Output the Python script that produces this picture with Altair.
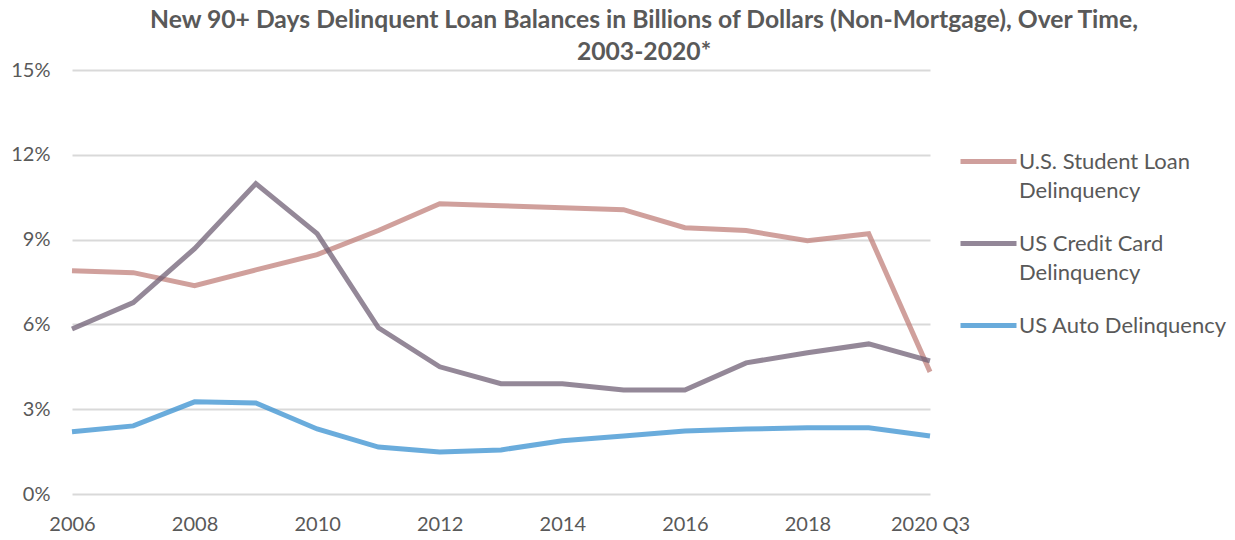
import altair as alt
import pandas as pd

years = list(range(2006, 2021))
student = [7.90, 7.83, 7.37, 7.93, 8.47, 9.32, 10.27, 10.20, 10.13, 10.06, 9.42, 9.32, 8.96, 9.21, 4.32]
credit = [5.84, 6.77, 8.68, 10.98, 9.21, 5.88, 4.50, 3.90, 3.90, 3.68, 3.68, 4.64, 5.00, 5.31, 4.71]
auto = [2.20, 2.41, 3.26, 3.22, 2.30, 1.66, 1.49, 1.56, 1.88, 2.05, 2.23, 2.30, 2.34, 2.34, 2.05]

series_names = ["U.S. Student Loan|Delinquency", "US Credit Card|Delinquency", "US Auto Delinquency"]
series_colors = ["#c0807b", "#706076", "#3890d0"]
y_ticks = [0, 0.03, 0.06, 0.09, 0.12, 0.15]
x_ticks = [2006, 2008, 2010, 2012, 2014, 2016, 2018, 2020]

rows = []
for name, vals in zip(series_names, [student, credit, auto]):
    for yr, v in zip(years, vals):
        rows.append({"year": yr, "value": v / 100, "series": name})
df = pd.DataFrame(rows)

font = "Lato"
grey = "#595959"

chart = alt.Chart(df).mark_line(strokeWidth=5, opacity=0.75, strokeCap="butt").encode(
    x=alt.X("year:Q", scale=alt.Scale(domain=[2006, 2020], nice=False, zero=False),
            axis=alt.Axis(values=x_ticks, title=None, grid=False, domain=False, ticks=False,
                          labelExpr="datum.value == 2020 ? '2020 Q3' : datum.value",
                          labelFont=font, labelFontSize=20, labelColor=grey, labelPadding=20,
                          labelFlush=False)),
    y=alt.Y("value:Q", scale=alt.Scale(domain=[0, 0.15], nice=False),
            axis=alt.Axis(values=y_ticks, format=".0%", title=None, domain=False, ticks=False,
                          gridColor="#d9d9d9", gridWidth=2,
                          labelFont=font, labelFontSize=20, labelColor=grey, labelPadding=22)),
    color=alt.Color("series:N", sort=series_names,
                    scale=alt.Scale(domain=series_names, range=series_colors),
                    legend=alt.Legend(title=None, orient="none", legendX=886, legendY=61,
                                      symbolType="stroke", symbolSize=3136, symbolStrokeWidth=5,
                                      symbolOpacity=0.75,
                                      labelExpr="split(datum.label, '|')",
                                      labelFont=font, labelFontSize=22, labelColor=grey,
                                      labelOffset=0, rowPadding=11, labelLimit=400)),
).properties(
    width=858, height=424,
    autosize=alt.AutoSizeParams(type="none"),
    padding={"left": 64, "top": 62, "right": 297, "bottom": 44},
    background="white",
    title=alt.TitleParams(
        text=["New 90+ Days Delinquent Loan Balances in Billions of Dollars (Non-Mortgage), Over Time,",
              "2003-2020*"],
        font=font, fontSize=24.7, fontWeight="bold", color=grey, anchor="middle",
        lineHeight=32, offset=-5, dx=143),
).configure(
    view=alt.ViewConfig(stroke=None),
    style={"guide-label": {"lineHeight": 29}},
)

chart.save("out.html", embed_options={"renderer": "svg", "actions": False})
